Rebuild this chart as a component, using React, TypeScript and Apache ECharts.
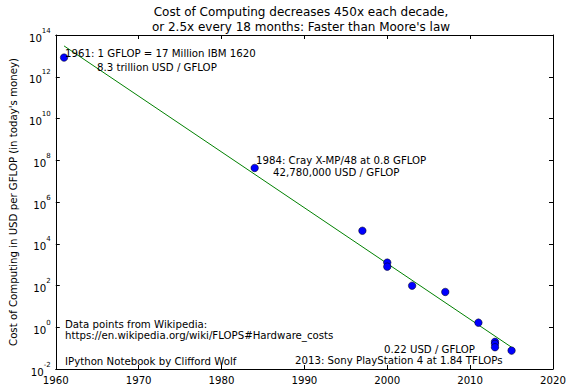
import React, { useEffect, useRef } from "react";
import * as echarts from "echarts";

const years = [1961, 1984, 1997, 2000, 2000, 2003, 2007, 2011, 2013, 2013, 2013, 2015];
const costs = [8.3e12, 4.278e7, 4.2e4, 1250, 800, 98, 49, 1.66, 0.2, 0.16, 0.11, 0.076];
const fitYears = [1961, 2015];
const fitCosts = [3e13, 0.11];

const titleLines = [
  { text: "Cost of Computing decreases 450x each decade,", x: 301, y: 12 },
  { text: "or 2.5x every 18 months: Faster than Moore's law", x: 301, y: 27 },
];
const yAxisTitle = "Cost of Computing in USD per GFLOP (in today's money)";
const annotations = [
  { text: "1961: 1 GFLOP = 17 Million IBM 1620", x: 65, y: 53 },
  { text: "8.3 trillion USD / GFLOP", x: 97, y: 67 },
  { text: "1984: Cray X-MP/48 at 0.8 GFLOP", x: 256, y: 160 },
  { text: "42,780,000 USD / GFLOP", x: 273, y: 172.5 },
  { text: "0.22 USD / GFLOP", x: 384, y: 349 },
  { text: "2013: Sony PlayStation 4 at 1.84 TFLOPs", x: 295, y: 360 },
  { text: "Data points from Wikipedia:", x: 65, y: 324 },
  { text: "https://en.wikipedia.org/wiki/FLOPS#Hardware_costs", x: 65, y: 335 },
  { text: "IPython Notebook by Clifford Wolf", x: 65, y: 361 },
];

const FONT = "DejaVu Sans";
const FS = 10.2;

export default function App() {
  const ref = useRef<HTMLDivElement>(null);
  useEffect(() => {
    if (!ref.current) return;
    const chart = echarts.init(ref.current, null, { renderer: "svg" });
    const tickStyle = { inside: true, length: 4, lineStyle: { color: "#000", width: 1 } };
    const lineStyle = { show: true, lineStyle: { color: "#000", width: 1 } };
    const yLabel = {
      formatter: (v: number) => {
        const e = Math.round(Math.log10(v));
        return `{b|10}{s|${e}}`;
      },
      margin: 5,
      rich: {
        b: { fontSize: FS, fontFamily: FONT, color: "#000", verticalAlign: "bottom", lineHeight: 16 },
        s: { fontSize: 7, fontFamily: FONT, color: "#000", verticalAlign: "top", lineHeight: 16 },
      },
    };
    const textEl = (a: { text: string; x: number; y: number }, size: number, align: string) => ({
      type: "text",
      x: a.x,
      y: a.y,
      z: 10,
      style: {
        text: a.text,
        fontSize: size,
        fontFamily: FONT,
        fill: "#000",
        align,
        verticalAlign: "middle",
      },
    });
    chart.setOption({
      animation: false,
      backgroundColor: "#fff",
      grid: { left: 49, right: 17, top: 35, bottom: 22, containLabel: false },
      xAxis: [
        {
          type: "value",
          min: 1960,
          max: 2020,
          interval: 10,
          axisLine: lineStyle,
          axisTick: tickStyle,
          splitLine: { show: false },
          axisLabel: {
            fontSize: FS,
            fontFamily: FONT,
            color: "#000",
            margin: 6,
            formatter: (v: number) => String(v),
          },
        },
        {
          type: "value",
          position: "top",
          min: 1960,
          max: 2020,
          interval: 10,
          axisLine: lineStyle,
          axisTick: tickStyle,
          splitLine: { show: false },
          axisLabel: { show: false },
        },
      ],
      yAxis: [
        {
          type: "log",
          logBase: 10,
          min: 0.01,
          max: 1e14,
          interval: 2,
          axisLine: lineStyle,
          axisTick: tickStyle,
          minorTick: { show: false },
          splitLine: { show: false },
          axisLabel: yLabel,
          name: yAxisTitle,
          nameLocation: "middle",
          nameRotate: 90,
          nameGap: 35,
          nameTextStyle: { fontSize: FS, fontFamily: FONT, color: "#000" },
        },
        {
          type: "log",
          logBase: 10,
          position: "right",
          min: 0.01,
          max: 1e14,
          interval: 2,
          axisLine: lineStyle,
          axisTick: tickStyle,
          splitLine: { show: false },
          axisLabel: { show: false },
        },
      ],
      series: [
        {
          type: "line",
          data: fitYears.map((y, i) => [y, fitCosts[i]]),
          symbol: "none",
          lineStyle: { color: "#008000", width: 1 },
          z: 2,
        },
        {
          type: "scatter",
          data: years.map((y, i) => [y, costs[i]]),
          symbol: "circle",
          symbolSize: 7.5,
          itemStyle: { color: "#0000ff", borderColor: "#000", borderWidth: 0.5, opacity: 1 },
          z: 3,
        },
      ],
      graphic: [
        ...titleLines.map((t) => textEl(t, 12, "center")),
        ...annotations.map((a) => textEl(a, FS, "left")),
      ],
    });
    return () => chart.dispose();
  }, []);
  return (
    <div
      ref={ref}
      style={{ position: "fixed", left: 0, top: 0, width: 570, height: 391, background: "#fff" }}
    />
  );
}
